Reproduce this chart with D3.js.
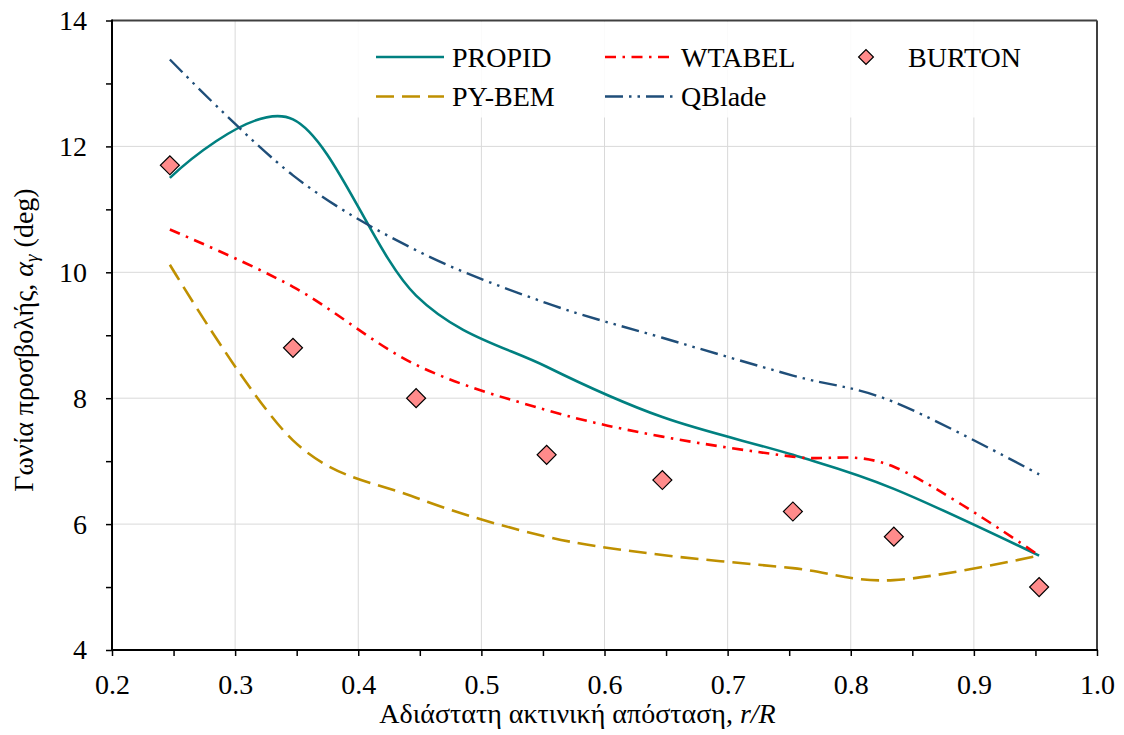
<!DOCTYPE html>
<html>
<head>
<meta charset="utf-8">
<script src="https://cdn.jsdelivr.net/npm/d3@7"></script>
<style>
  body { margin: 0; background: #fff; }
  svg text { font-family: 'Liberation Serif', 'Times New Roman', Times, 'DejaVu Serif', serif; fill: #000; }
</style>
</head>
<body>
<div id="chart"></div>
<script>
// radial stations r/R
const rR = [0.247, 0.347, 0.447, 0.553, 0.647, 0.753, 0.835, 0.953];
// angle of attack (deg) per method
const propid = [11.5, 12.43, 9.63, 8.5, 7.7, 7.1, 6.56, 5.5];
const wtabel = [10.68, 9.77, 8.53, 7.81, 7.39, 7.07, 6.91, 5.5];
const pybem = [10.12, 7.33, 6.42, 5.80, 5.51, 5.30, 5.11, 5.5];
const qblade = [13.38, 11.54, 10.35, 9.51, 8.96, 8.36, 7.94, 6.79];
const burton = [11.7, 8.8, 8.0, 7.1, 6.7, 6.2, 5.8, 5.0];

const xTicks = [0.2, 0.3, 0.4, 0.5, 0.6, 0.7, 0.8, 0.9, 1.0];
const yTicks = [4, 6, 8, 10, 12, 14];

const width = 1124;
const height = 735;
const mLeft = 112, mRight = 1097, mTop = 20.5, mBottom = 650;
const fontFam = "'Liberation Serif', 'Times New Roman', Times, 'DejaVu Serif', serif";

const svg = d3.select("#chart")
  .append("svg")
  .attr("width", width)
  .attr("height", height)
  .attr("font-family", fontFam);

const x = d3.scaleLinear().domain([0.2, 1.0]).range([mLeft, mRight]);
const y = d3.scaleLinear().domain([4, 14]).range([mBottom, mTop]);

// grid
svg.append("g")
  .selectAll("line")
  .data(xTicks.slice(1, -1))
  .join("line")
  .attr("x1", d => x(d)).attr("x2", d => x(d))
  .attr("y1", mTop).attr("y2", mBottom)
  .attr("stroke", "#d9d9d9").attr("stroke-width", 1);

svg.append("g")
  .selectAll("line")
  .data(yTicks.slice(1, -1))
  .join("line")
  .attr("x1", mLeft).attr("x2", mRight)
  .attr("y1", d => y(d)).attr("y2", d => y(d))
  .attr("stroke", "#d9d9d9").attr("stroke-width", 1);

// legend background (drawn before series, covers grid)
svg.append("rect")
  .attr("x", 352).attr("y", mTop + 1)
  .attr("width", 700).attr("height", 96)
  .attr("fill", "#fff").attr("fill-opacity", 0.88);

// axes
const xAxis = d3.axisBottom(x)
  .tickValues(d3.range(0.2, 1.0001, 0.05))
  .tickSize(6)
  .tickPadding(24)
  .tickFormat(d => {
    const k = Math.round(d * 100);
    return k % 10 === 0 ? d3.format(".1f")(d) : "";
  });

const yAxis = d3.axisLeft(y)
  .tickValues(d3.range(4, 15, 1))
  .tickSize(6)
  .tickPadding(19)
  .tickFormat(d => d % 2 === 0 ? d : "");

const gx = svg.append("g")
  .attr("transform", `translate(0,${mBottom})`)
  .call(xAxis);
const gy = svg.append("g")
  .attr("transform", `translate(${mLeft},0)`)
  .call(yAxis);

[gx, gy].forEach(g => {
  g.attr("font-family", fontFam);
  g.select(".domain").remove();
  g.selectAll(".tick line").attr("stroke", "#000").attr("stroke-width", 1.5);
  g.selectAll(".tick text")
    .attr("font-size", 28)
    .attr("fill", "#000");
});
gx.selectAll(".tick text").attr("dy", null).attr("y", 44.3);

// frame
svg.append("line").attr("x1", mLeft).attr("x2", mRight).attr("y1", mTop).attr("y2", mTop)
  .attr("stroke", "#404040").attr("stroke-width", 2);
svg.append("line").attr("x1", mRight).attr("x2", mRight).attr("y1", mTop).attr("y2", mBottom)
  .attr("stroke", "#404040").attr("stroke-width", 2);
svg.append("line").attr("x1", mLeft).attr("x2", mLeft).attr("y1", mTop - 1).attr("y2", mBottom + 1)
  .attr("stroke", "#000").attr("stroke-width", 2);
svg.append("line").attr("x1", mLeft - 1).attr("x2", mRight + 1).attr("y1", mBottom).attr("y2", mBottom)
  .attr("stroke", "#000").attr("stroke-width", 2);

// series
const series = [
  { name: "PROPID", values: propid, color: "#008080", dash: null, w: 2.6 },
  { name: "PY-BEM", values: pybem, color: "#bf9000", dash: "18,8", w: 2.6 },
  { name: "WTABEL", values: wtabel, color: "#ff0000", dash: "11,6.5,2.5,6.5", w: 2.6 },
  { name: "QBlade", values: qblade, color: "#1f4e79", dash: "18,6,2.5,6,2.5,6", w: 2.4 }
];

const line = d3.line()
  .x(d => x(d[0]))
  .y(d => y(d[1]))
  .curve(d3.curveCardinal.tension(0));

svg.append("g")
  .selectAll("path")
  .data(series)
  .join("path")
  .attr("d", s => line(rR.map((r, i) => [r, s.values[i]])))
  .attr("fill", "none")
  .attr("stroke", s => s.color)
  .attr("stroke-width", s => s.w)
  .attr("stroke-dasharray", s => s.dash);

// burton diamonds
const diamond = d3.symbol().type(d3.symbolSquare).size(180);
svg.append("g")
  .selectAll("path")
  .data(rR.map((r, i) => [r, burton[i]]))
  .join("path")
  .attr("d", diamond)
  .attr("transform", d => `translate(${x(d[0])},${y(d[1])}) rotate(45)`)
  .attr("fill", "#ff8b8b")
  .attr("stroke", "#000")
  .attr("stroke-width", 1.2);

// legend
const legendItems = [
  { s: series[0], lx: 376, ly: 57, tx: 452 },
  { s: series[2], lx: 605, ly: 57, tx: 681 },
  { s: series[1], lx: 376, ly: 96.5, tx: 452 },
  { s: series[3], lx: 605, ly: 96.5, tx: 681 }
];
const lg = svg.append("g");
legendItems.forEach(it => {
  lg.append("line")
    .attr("x1", it.lx).attr("x2", it.lx + 68)
    .attr("y1", it.ly).attr("y2", it.ly)
    .attr("stroke", it.s.color)
    .attr("stroke-width", it.s.w)
    .attr("stroke-dasharray", it.s.dash);
  lg.append("text")
    .attr("x", it.tx).attr("y", it.ly + 9.5)
    .attr("font-size", 28)
    .text(it.s.name);
});
lg.append("path")
  .attr("d", d3.symbol().type(d3.symbolSquare).size(110))
  .attr("transform", "translate(866,57) rotate(45)")
  .attr("fill", "#ff8b8b")
  .attr("stroke", "#000")
  .attr("stroke-width", 1.2);
lg.append("text")
  .attr("x", 908).attr("y", 66.5)
  .attr("font-size", 28)
  .text("BURTON");

// axis titles
const xt = svg.append("text")
  .attr("x", 577.5).attr("y", 723.3)
  .attr("text-anchor", "middle")
  .attr("font-size", 28);
xt.append("tspan").text("Αδιάστατη ακτινική απόσταση, ");
xt.append("tspan").attr("font-style", "italic").text("r/R");

const yt = svg.append("text")
  .attr("transform", "translate(33,340) rotate(-90)")
  .attr("text-anchor", "middle")
  .attr("font-size", 28);
yt.append("tspan").text("Γωνία προσβολής, ");
yt.append("tspan").attr("font-style", "italic").text("α");
yt.append("tspan").attr("font-style", "italic").attr("font-size", 19).attr("dy", 5).text("γ");
yt.append("tspan").attr("dy", -5).text(" (deg)");
</script>
</body>
</html>
